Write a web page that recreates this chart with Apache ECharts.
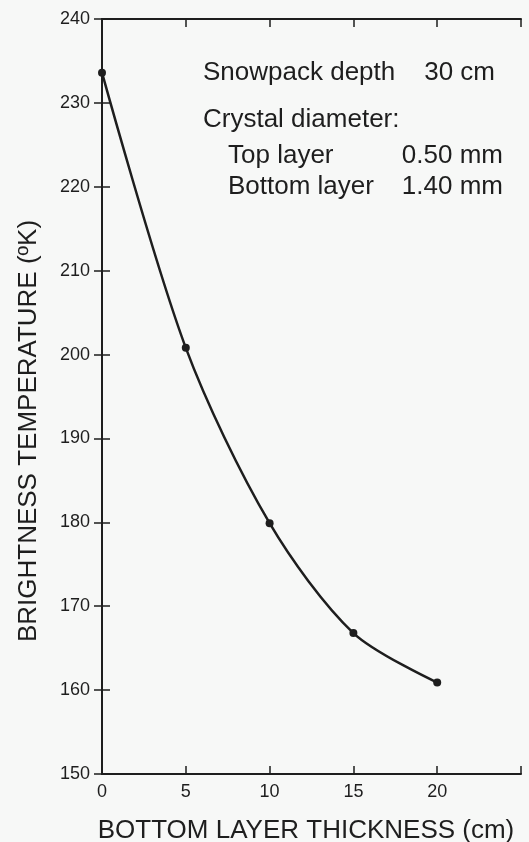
<!DOCTYPE html>
<html>
<head>
<meta charset="utf-8">
<script src="https://cdn.jsdelivr.net/npm/echarts@6/dist/echarts.min.js"></script>
<style>
html,body{margin:0;padding:0;background:#f7f8f7;}
#c{width:529px;height:842px;}
</style>
</head>
<body>
<div id="c"></div>
<script>
const thickness = [0, 5, 10, 15, 20];
const temperature = [233.6, 200.8, 179.9, 166.8, 160.9];
const xTicks = [0, 5, 10, 15, 20];
const yTicks = [150, 160, 170, 180, 190, 200, 210, 220, 230, 240];
const xTitle = 'BOTTOM LAYER THICKNESS (cm)';
const yTitle = 'BRIGHTNESS TEMPERATURE (ºK)';
const noteLabels = ['Snowpack depth', 'Crystal diameter:', 'Top layer', 'Bottom layer'];
const noteValues = ['30 cm', '0.50 mm', '1.40 mm'];

const ink = '#1e1e1e';
const font = '"Liberation Sans", Arial, sans-serif';
const chart = echarts.init(document.getElementById('c'), null, {renderer: 'canvas'});
const points = thickness.map((x, i) => [x, temperature[i]]);
const axisLineStyle = {color: ink, width: 2};
const noteFont = '26px ' + font;
const tickStyle = {show: true, inside: true, length: 8, lineStyle: {color: ink, width: 1.5}};
chart.setOption({
  backgroundColor: '#f7f8f7',
  animation: false,
  grid: {left: 102, right: 8, top: 19, bottom: 68, outerBoundsMode: 'none', containLabel: false},
  xAxis: [{
    type: 'value', min: 0, max: 25, interval: 5, position: 'bottom',
    axisLine: {show: true, lineStyle: axisLineStyle},
    axisTick: tickStyle,
    axisLabel: {color: ink, fontSize: 18, fontFamily: font, margin: 9,
      formatter: v => xTicks.indexOf(v) >= 0 ? String(v) : ''},
    splitLine: {show: false}
  }, {
    type: 'value', min: 0, max: 25, interval: 5, position: 'top',
    axisLine: {show: true, lineStyle: axisLineStyle},
    axisTick: tickStyle,
    axisLabel: {show: false}, splitLine: {show: false}
  }],
  yAxis: [{
    type: 'value', min: 150, max: 240, interval: 10, position: 'left',
    axisLine: {show: true, lineStyle: axisLineStyle},
    axisTick: tickStyle,
    axisLabel: {color: ink, fontSize: 18, fontFamily: font, margin: 12,
      formatter: v => yTicks.indexOf(v) >= 0 ? String(v) : ''},
    splitLine: {show: false}
  }, {
    type: 'value', min: 150, max: 240, interval: 10, position: 'right',
    axisLine: {show: true, lineStyle: axisLineStyle},
    axisTick: tickStyle,
    axisLabel: {show: false}, splitLine: {show: false}
  }],
  series: [{
    type: 'line', data: points, smooth: 0.3,
    symbol: 'circle', symbolSize: 8,
    lineStyle: {color: ink, width: 2.5},
    itemStyle: {color: ink}
  }],
  graphic: [
    {type: 'text', x: 306, y: 831, style: {text: xTitle, fill: ink, font: noteFont, align: 'center', verticalAlign: 'middle'}},
    {type: 'text', x: 29, y: 431, rotation: Math.PI / 2, style: {text: yTitle, fill: ink, font: noteFont, align: 'center', verticalAlign: 'middle'}},
    {type: 'text', x: 203, y: 73, style: {text: noteLabels[0], fill: ink, font: noteFont, verticalAlign: 'middle'}},
    {type: 'text', x: 495, y: 73, style: {text: noteValues[0], fill: ink, font: noteFont, align: 'right', verticalAlign: 'middle'}},
    {type: 'text', x: 203, y: 120, style: {text: noteLabels[1], fill: ink, font: noteFont, verticalAlign: 'middle'}},
    {type: 'text', x: 228, y: 156, style: {text: noteLabels[2], fill: ink, font: noteFont, verticalAlign: 'middle'}},
    {type: 'text', x: 228, y: 187, style: {text: noteLabels[3], fill: ink, font: noteFont, verticalAlign: 'middle'}},
    {type: 'text', x: 503, y: 156, style: {text: noteValues[1], fill: ink, font: noteFont, align: 'right', verticalAlign: 'middle'}},
    {type: 'text', x: 503, y: 187, style: {text: noteValues[2], fill: ink, font: noteFont, align: 'right', verticalAlign: 'middle'}}
  ]
});
</script>
</body>
</html>
